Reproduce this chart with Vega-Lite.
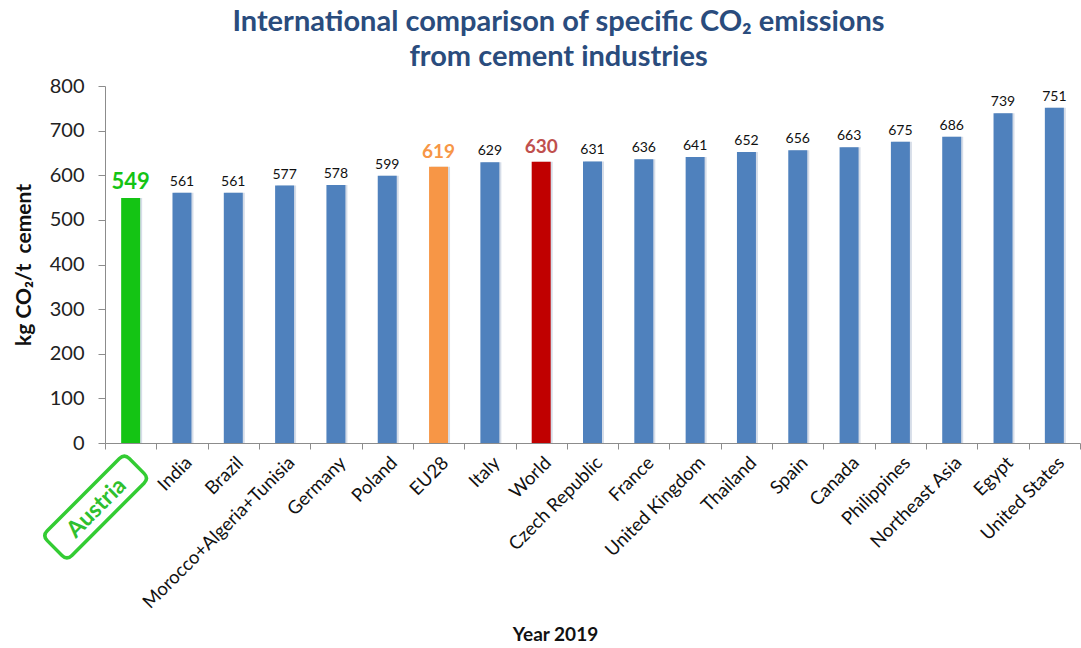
{
  "$schema": "https://vega.github.io/schema/vega-lite/v6.json",
  "width": 975,
  "height": 357,
  "autosize": {"type": "none"},
  "padding": {"left": 105, "top": 86, "right": 1, "bottom": 205},
  "background": "white",
  "config": {"view": {"stroke": null}, "font": "Lato"},
  "title": {
    "text": ["International comparison of specific CO₂ emissions", "from cement industries"],
    "font": "Lato",
    "fontSize": 29,
    "fontWeight": "bold",
    "color": "#2A4C7D",
    "anchor": "middle",
    "frame": "group",
    "dx": -34,
    "offset": 4,
    "lineHeight": 35
  },
  "data": {
    "values": [
      {"country": "Austria", "value": 549},
      {"country": "India", "value": 561},
      {"country": "Brazil", "value": 561},
      {"country": "Morocco+Algeria+Tunisia", "value": 577},
      {"country": "Germany", "value": 578},
      {"country": "Poland", "value": 599},
      {"country": "EU28", "value": 619},
      {"country": "Italy", "value": 629},
      {"country": "World", "value": 630},
      {"country": "Czech Republic", "value": 631},
      {"country": "France", "value": 636},
      {"country": "United Kingdom", "value": 641},
      {"country": "Thailand", "value": 652},
      {"country": "Spain", "value": 656},
      {"country": "Canada", "value": 663},
      {"country": "Philippines", "value": 675},
      {"country": "Northeast Asia", "value": 686},
      {"country": "Egypt", "value": 739},
      {"country": "United States", "value": 751}
    ]
  },
  "encoding": {
    "x": {
      "field": "country",
      "type": "nominal",
      "sort": null,
      "scale": {"paddingInner": 0, "paddingOuter": 0},
      "axis": {
        "title": "Year 2019",
        "titleFont": "Lato",
        "titleFontSize": 19,
        "titleFontWeight": "bold",
        "titleColor": "#111111",
        "titleX": 450,
        "titleY": 182,
        "titleBaseline": "top",
        "labelExpr": "datum.value === 'Austria' ? '' : datum.label",
        "labelAngle": -45,
        "labelFont": "Lato",
        "labelFontSize": 18.5,
        "labelColor": "#111111",
        "labelPadding": 4,
        "labelOverlap": false,
        "labelBound": false,
        "labelLimit": 400,
        "tickBand": "extent",
        "tickSize": 6,
        "tickColor": "#8C8C8C",
        "domainColor": "#8C8C8C",
        "grid": false
      }
    },
    "y": {
      "field": "value",
      "type": "quantitative",
      "scale": {"domain": [0, 800], "nice": false},
      "axis": {
        "title": "kg CO₂/t\u00a0\u00a0cement",
        "titleFont": "Lato",
        "titleFontSize": 21,
        "titleFontWeight": "bold",
        "titleColor": "#111111",
        "titlePadding": 15,
        "labelFont": "Lato",
        "labelFontSize": 20,
        "labelColor": "#222222",
        "labelPadding": 14,
        "values": [0, 100, 200, 300, 400, 500, 600, 700, 800],
        "tickSize": 7,
        "tickColor": "#8C8C8C",
        "domainColor": "#8C8C8C",
        "grid": false
      }
    }
  },
  "layer": [
    {
      "mark": {"type": "bar", "width": {"band": 0.37}, "xOffset": 2, "color": "#D6DDE8"}
    },
    {
      "mark": {"type": "bar", "width": {"band": 0.37}},
      "encoding": {
        "color": {
          "condition": [
            {"test": "datum.country === 'Austria'", "value": "#14C414"},
            {"test": "datum.country === 'EU28'", "value": "#F79646"},
            {"test": "datum.country === 'World'", "value": "#C00000"}
          ],
          "value": "#4F81BD"
        }
      }
    },
    {
      "transform": [{"filter": "indexof(['Austria','EU28','World'], datum.country) < 0"}],
      "mark": {"type": "text", "baseline": "alphabetic", "dy": -7, "font": "Lato", "fontSize": 14, "color": "#111111"},
      "encoding": {"text": {"field": "value", "type": "quantitative"}}
    },
    {
      "transform": [{"filter": "indexof(['Austria','EU28','World'], datum.country) >= 0"}],
      "mark": {"type": "text", "baseline": "alphabetic", "dy": -9, "font": "Lato", "fontWeight": "bold"},
      "encoding": {
        "text": {"field": "value", "type": "quantitative"},
        "size": {
          "condition": {"test": "datum.country === 'Austria'", "value": 22},
          "value": 19
        },
        "color": {
          "condition": [
            {"test": "datum.country === 'Austria'", "value": "#14C414"},
            {"test": "datum.country === 'EU28'", "value": "#F79646"}
          ],
          "value": "#C0504D"
        }
      }
    },
    {
      "transform": [{"filter": "datum.country === 'Austria'"}],
      "mark": {
        "type": "point",
        "shape": "M-0.88,-0.3 L0.88,-0.3 Q1,-0.3 1,-0.18 L1,0.18 Q1,0.3 0.88,0.3 L-0.88,0.3 Q-1,0.3 -1,0.18 L-1,-0.18 Q-1,-0.3 -0.88,-0.3 Z",
        "size": 13456,
        "angle": -45,
        "filled": false,
        "stroke": "#33CC33",
        "strokeWidth": 3.5,
        "opacity": 1,
        "xOffset": -35,
        "yOffset": 64,
        "clip": false
      },
      "encoding": {
        "y": {"datum": 0}
      }
    },
    {
      "transform": [{"filter": "datum.country === 'Austria'"}],
      "mark": {
        "type": "text",
        "angle": -45,
        "align": "center",
        "baseline": "middle",
        "font": "Lato",
        "fontSize": 23,
        "fontWeight": "bold",
        "color": "#2EC02E",
        "xOffset": -34,
        "yOffset": 65,
        "clip": false
      },
      "encoding": {
        "y": {"datum": 0},
        "text": {"field": "country", "type": "nominal"}
      }
    }
  ]
}
